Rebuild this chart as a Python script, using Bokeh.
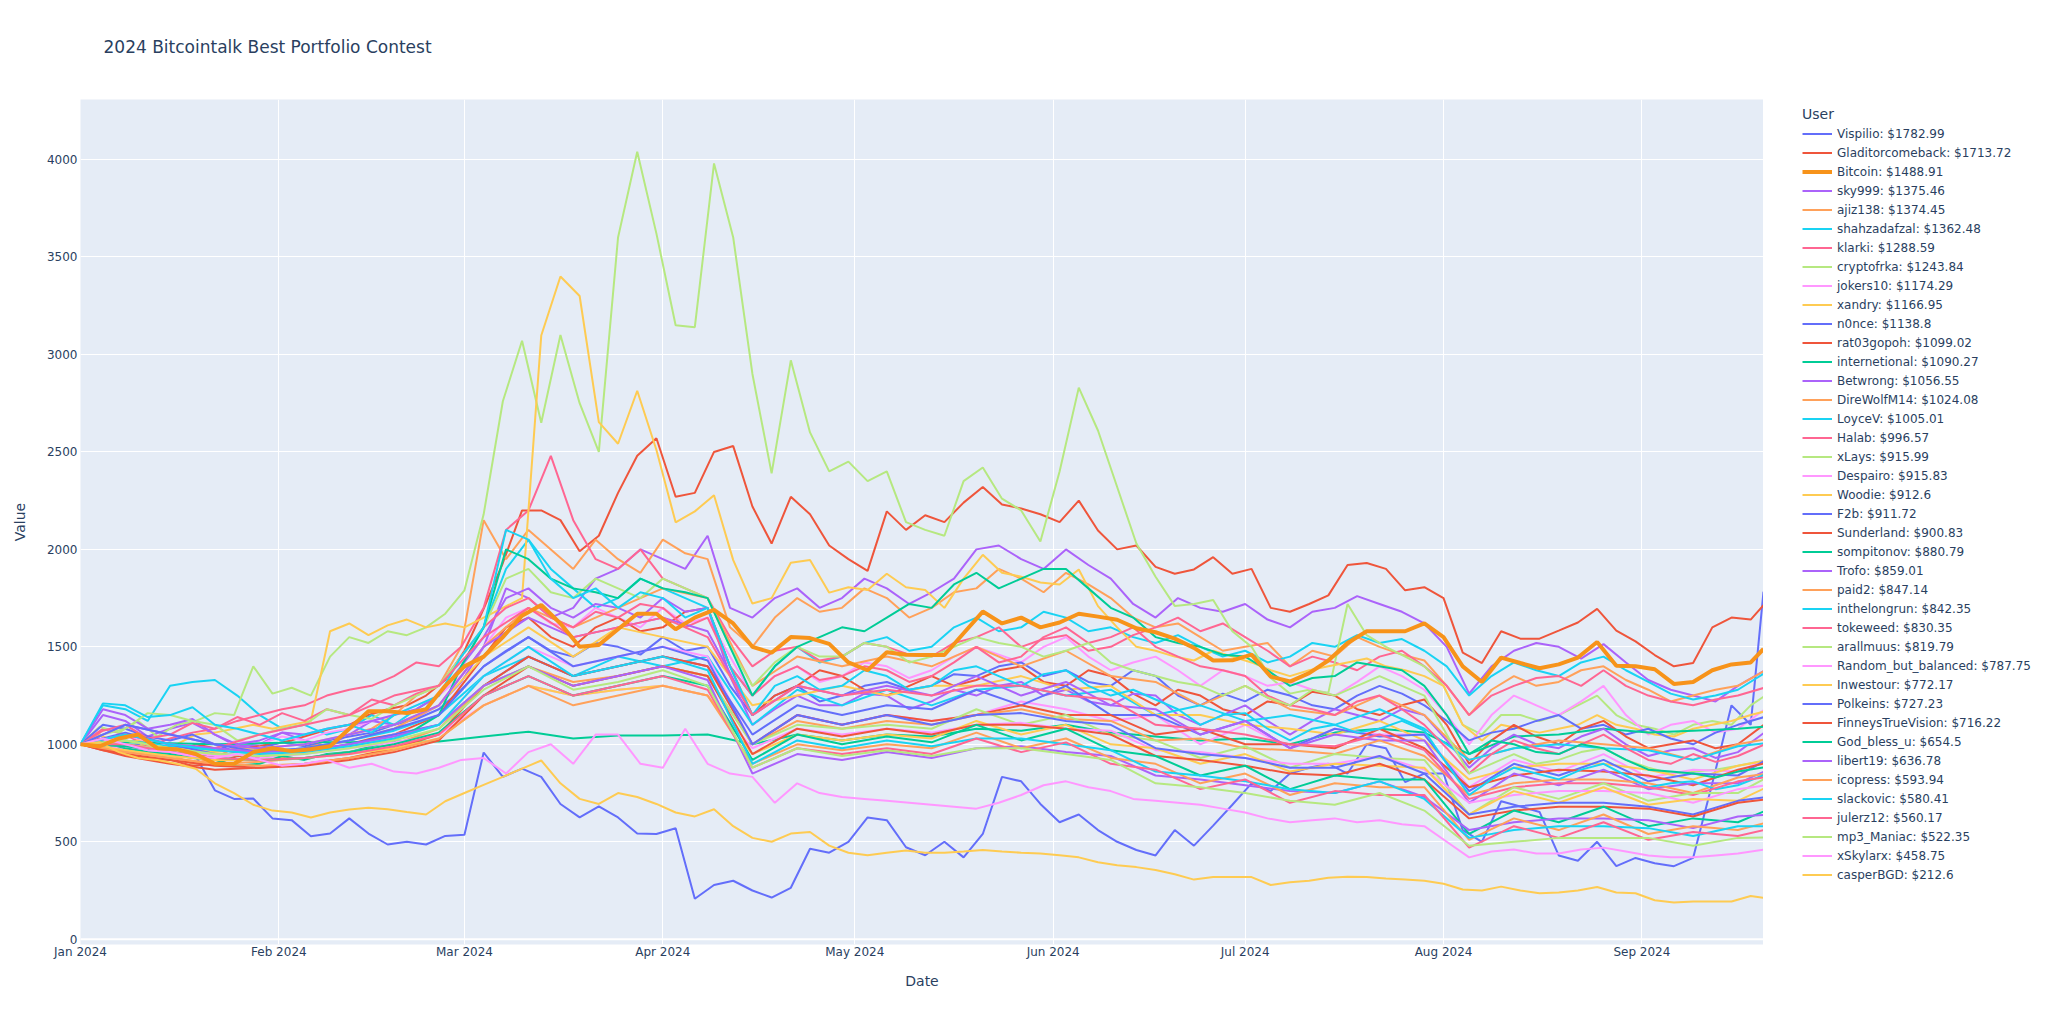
import datetime as dt
from bokeh.plotting import figure
from bokeh.layouts import row
from bokeh.models import (Range1d, FixedTicker, MonthsTicker, DatetimeTickFormatter,
                          Legend, LegendItem, Span, Title, ColumnDataSource)
from bokeh.core.properties import value
from bokeh.embed import file_html
from bokeh.resources import INLINE

START = dt.datetime(2024, 1, 1)
# sample dates, as day offsets from 2024-01-01
fine_days = list(range(0, 262, 3)) + [263]          # every 3 days
half_days = [k * 3.5 for k in range(75)] + [263]     # twice a week
week_days = list(range(0, 260, 7)) + [263]           # weekly

y_ticks = [0, 500, 1000, 1500, 2000, 2500, 3000, 3500, 4000]

# ---------- series on the 3-day grid ----------
v_vispilio = [1000, 1050, 980, 1000, 950, 980, 940, 764, 720, 722,
              620, 611, 528, 542, 620, 542, 486, 500, 486, 530,
              536, 958, 833, 875, 833, 694, 625, 681, 625, 542,
              540, 569, 208, 278, 300, 250, 214, 264, 464, 444,
              500, 625, 611, 472, 431, 500, 420, 540, 833, 810,
              694, 600, 640, 560, 500, 458, 430, 560, 480, 583,
              690, 800, 760, 850, 880, 900, 850, 1000, 980, 806,
              850, 850, 560, 500, 708, 681, 653, 430, 403, 500,
              375, 417, 390, 375, 417, 800, 1200, 1100, 1783]
v_gladitor = [1000, 1030, 960, 980, 950, 960, 1000, 980, 960, 990,
              1000, 1020, 1050, 1080, 1100, 1150, 1180, 1200, 1250, 1330,
              1480, 1695, 1930, 2200, 2200, 2150, 1990, 2070, 2290, 2480,
              2570, 2270, 2290, 2500, 2530, 2220, 2030, 2270, 2180, 2020,
              1950, 1890, 2195, 2100, 2175, 2140, 2240, 2320, 2230, 2210,
              2180, 2140, 2250, 2097, 2000, 2020, 1910, 1875, 1897, 1960,
              1875, 1900, 1700, 1680, 1720, 1764, 1920, 1930, 1900, 1790,
              1806, 1750, 1470, 1417, 1580, 1542, 1542, 1583, 1625, 1695,
              1583, 1528, 1458, 1400, 1417, 1600, 1650, 1640, 1714]
v_bitcoin = [1000, 990, 1030, 1050, 980, 975, 950, 900, 900, 960,
             980, 965, 975, 990, 1080, 1170, 1170, 1160, 1180, 1300,
             1400, 1450, 1550, 1660, 1715, 1620, 1500, 1510, 1590, 1670,
             1670, 1590, 1650, 1690, 1620, 1500, 1470, 1550, 1545, 1515,
             1420, 1380, 1472, 1460, 1458, 1458, 1570, 1681, 1620, 1650,
             1600, 1625, 1670, 1655, 1639, 1595, 1575, 1542, 1495, 1430,
             1431, 1460, 1347, 1322, 1365, 1430, 1520, 1580, 1580, 1580,
             1620, 1550, 1400, 1320, 1445, 1417, 1390, 1410, 1445, 1525,
             1403, 1400, 1385, 1310, 1320, 1380, 1410, 1420, 1489]
v_cryptofrka = [1000, 1090, 1060, 1120, 1040, 1100, 1120, 1160, 1150, 1400,
                1260, 1290, 1250, 1450, 1550, 1520, 1580, 1560, 1600, 1670,
                1790, 2180, 2760, 3070, 2650, 3100, 2750, 2500, 3600, 4040,
                3620, 3150, 3140, 3980, 3600, 2900, 2390, 2970, 2600, 2400,
                2450, 2350, 2400, 2140, 2100, 2070, 2350, 2420, 2260, 2200,
                2040, 2400, 2830, 2610, 2320, 2030, 1860, 1710, 1720, 1740,
                1580, 1500, 1340, 1260, 1280, 1264, 1720, 1560, 1500, 1450,
                1400, 1300, 1100, 1050, 1150, 1150, 1120, 1150, 1200, 1250,
                1150, 1100, 1080, 1050, 1100, 1120, 1100, 1200, 1244]
v_xandry = [1000, 1050, 1000, 1020, 980, 1000, 1050, 1060, 1080, 1100,
            1080, 1100, 1120, 1580, 1620, 1560, 1610, 1640, 1600, 1620,
            1600, 1650, 1700, 1750, 3097, 3400, 3300, 2653, 2542, 2814,
            2510, 2139, 2195, 2278, 1945, 1722, 1750, 1931, 1945, 1778,
            1806, 1792, 1875, 1806, 1792, 1700, 1850, 1972, 1880, 1860,
            1830, 1820, 1897, 1709, 1600, 1500, 1480, 1450, 1430, 1480,
            1450, 1420, 1380, 1350, 1380, 1400, 1420, 1440, 1400, 1380,
            1350, 1300, 1100, 1020, 1100, 1080, 1060, 1080, 1100, 1150,
            1100, 1080, 1050, 1040, 1080, 1100, 1120, 1150, 1167]
v_casperbgd = [1000, 1010, 960, 930, 920, 900, 875, 800, 750, 690,
               660, 650, 625, 650, 665, 675, 667, 653, 640, 708,
               750, 792, 833, 875, 917, 800, 720, 694, 750, 730,
               694, 650, 630, 667, 580, 520, 500, 542, 550, 480,
               444, 431, 444, 455, 444, 444, 450, 458, 450, 444,
               440, 431, 420, 395, 380, 370, 355, 333, 306, 319,
               319, 319, 278, 292, 300, 315, 320, 319, 311, 306,
               300, 285, 255, 250, 270, 250, 236, 240, 250, 268,
               240, 236, 200, 189, 194, 194, 194, 222, 213]

# ---------- series on the twice-weekly grid ----------
v_sky999 = [1000, 1150, 1120, 1040, 1080, 1110, 1050, 990, 1000, 1060,
            1020, 990, 1050, 1120, 1100, 1140, 1200, 1320, 1500, 1800,
            1750, 1650, 1700, 1850, 1900, 2000, 1950, 1900, 2070, 1700,
            1650, 1750, 1800, 1700, 1750, 1850, 1800, 1720, 1780, 1850,
            2000, 2020, 1950, 1900, 2000, 1920, 1850, 1720, 1650, 1750,
            1700, 1680, 1720, 1640, 1600, 1680, 1700, 1760, 1720, 1680,
            1620, 1500, 1260, 1400, 1480, 1520, 1500, 1440, 1514, 1420,
            1330, 1280, 1250, 1220, 1300, 1375]
v_ajiz138 = [1000, 1030, 980, 1000, 950, 900, 930, 990, 960, 930,
             980, 1020, 1050, 1080, 1150, 1250, 1300, 1500, 2150, 1950,
             2100, 2000, 1900, 2050, 1950, 1880, 2050, 1980, 1950, 1600,
             1500, 1650, 1750, 1680, 1700, 1800, 1750, 1650, 1700, 1780,
             1800, 1900, 1850, 1780, 1880, 1820, 1750, 1650, 1600, 1620,
             1550, 1480, 1500, 1520, 1400, 1480, 1450, 1550, 1500, 1460,
             1430, 1300, 1150, 1280, 1350, 1300, 1320, 1380, 1400, 1330,
             1280, 1220, 1250, 1280, 1300, 1374]
v_shahzadafzal = [1000, 1200, 1180, 1120, 1300, 1320, 1330, 1250, 1150, 1080,
                  1100, 1050, 1080, 1150, 1100, 1180, 1250, 1400, 1600, 1900,
                  2050, 1900, 1800, 1700, 1750, 1850, 1800, 1750, 1700, 1400,
                  1250, 1400, 1500, 1420, 1450, 1520, 1550, 1480, 1500, 1600,
                  1650, 1580, 1600, 1680, 1650, 1580, 1600, 1550, 1520, 1560,
                  1500, 1450, 1480, 1420, 1450, 1520, 1500, 1560, 1520, 1540,
                  1480, 1400, 1250, 1350, 1420, 1380, 1350, 1420, 1450, 1380,
                  1320, 1260, 1230, 1250, 1280, 1362]
v_klarki = [1000, 1080, 1050, 990, 1030, 1060, 1080, 1120, 1150, 1180,
            1200, 1250, 1280, 1300, 1350, 1420, 1400, 1500, 1700, 2100,
            2200, 2480, 2150, 1950, 1900, 2000, 1850, 1800, 1750, 1550,
            1400, 1480, 1500, 1430, 1450, 1520, 1500, 1460, 1450, 1520,
            1550, 1600, 1500, 1540, 1560, 1480, 1500, 1560, 1600, 1650,
            1580, 1620, 1550, 1480, 1400, 1450, 1420, 1380, 1450, 1480,
            1400, 1300, 1150, 1250, 1300, 1340, 1350, 1300, 1380, 1300,
            1250, 1220, 1200, 1230, 1250, 1289]
v_jokers10 = [1000, 1020, 1050, 1010, 1000, 960, 980, 1020, 1000, 1040,
              1020, 1060, 1080, 1120, 1150, 1200, 1250, 1350, 1500, 1650,
              1700, 1620, 1600, 1700, 1650, 1600, 1700, 1620, 1650, 1450,
              1250, 1350, 1400, 1320, 1350, 1420, 1400, 1340, 1380, 1450,
              1500, 1460, 1420, 1500, 1550, 1450, 1380, 1420, 1450, 1380,
              1300, 1380, 1350, 1300, 1320, 1280, 1250, 1320, 1400, 1350,
              1280, 1150, 1000, 1150, 1250, 1200, 1150, 1220, 1300, 1150,
              1050, 1100, 1120, 1060, 1080, 1174]
v_n0nce = [1000, 1100, 1080, 1040, 1020, 1050, 1000, 960, 980, 1010,
           990, 1020, 1040, 1060, 1100, 1130, 1180, 1280, 1400, 1480,
           1550, 1480, 1450, 1520, 1500, 1460, 1550, 1480, 1500, 1300,
           1150, 1250, 1300, 1220, 1250, 1300, 1320, 1280, 1300, 1360,
           1350, 1400, 1420, 1350, 1380, 1320, 1300, 1380, 1350, 1250,
           1200, 1260, 1220, 1280, 1250, 1200, 1180, 1250, 1300, 1260,
           1200, 1120, 1020, 1060, 1080, 1120, 1150, 1080, 1100, 1050,
           1080, 1030, 1000, 1060, 1100, 1139]
v_rat03gopoh = [1000, 970, 950, 930, 920, 890, 900, 940, 930, 960,
                950, 980, 1000, 1030, 1050, 1100, 1150, 1300, 1450, 1600,
                1650, 1550, 1500, 1600, 1650, 1580, 1600, 1680, 1700, 1400,
                1150, 1250, 1300, 1380, 1350, 1280, 1250, 1300, 1350, 1300,
                1330, 1380, 1400, 1320, 1300, 1380, 1350, 1260, 1200, 1280,
                1250, 1180, 1150, 1220, 1200, 1270, 1250, 1180, 1150, 1200,
                1230, 1100, 900, 1020, 1100, 1040, 1000, 1080, 1120, 1040,
                980, 1000, 1020, 980, 1000, 1099]
v_betwrong = [1000, 1180, 1150, 1080, 1100, 1130, 1050, 1000, 1020, 1060,
              1050, 1080, 1100, 1120, 1150, 1180, 1250, 1400, 1550, 1750,
              1800, 1700, 1650, 1720, 1700, 1650, 1750, 1680, 1700, 1350,
              1100, 1180, 1250, 1200, 1200, 1260, 1250, 1180, 1220, 1280,
              1250, 1300, 1320, 1250, 1280, 1220, 1200, 1260, 1250, 1150,
              1100, 1150, 1200, 1120, 1050, 1120, 1180, 1150, 1120, 1180,
              1150, 1020, 880, 980, 1050, 1000, 980, 1040, 1080, 1000,
              940, 970, 980, 930, 960, 1057]
v_halab = [1000, 1070, 1100, 1030, 1050, 1110, 1080, 1140, 1100, 1160,
           1120, 1180, 1150, 1230, 1200, 1260, 1300, 1450, 1600, 1700,
           1750, 1650, 1600, 1680, 1650, 1720, 1700, 1600, 1650, 1400,
           1250, 1350, 1400, 1330, 1350, 1400, 1380, 1320, 1350, 1420,
           1500, 1420, 1450, 1550, 1600, 1520, 1550, 1600, 1500, 1450,
           1400, 1380, 1350, 1250, 1200, 1180, 1150, 1220, 1250, 1180,
           1100, 980, 850, 950, 1020, 980, 950, 1000, 1050, 980,
           920, 900, 950, 910, 940, 997]
v_xlays = [1000, 1050, 1080, 1160, 1150, 1120, 1100, 1020, 1050, 1080,
           1100, 1180, 1150, 1130, 1200, 1250, 1300, 1450, 1600, 1850,
           1900, 1780, 1750, 1850, 1800, 1750, 1850, 1800, 1750, 1500,
           1300, 1420, 1500, 1450, 1450, 1520, 1500, 1420, 1450, 1500,
           1550, 1520, 1500, 1450, 1480, 1520, 1420, 1380, 1350, 1320,
           1300, 1250, 1300, 1240, 1200, 1280, 1250, 1300, 1350, 1300,
           1250, 1050, 850, 900, 950, 900, 920, 960, 980, 920,
           880, 850, 860, 870, 890, 916]
v_sompitonov = [1000, 1010, 980, 960, 950, 930, 920, 890, 900, 940,
                920, 950, 960, 990, 1020, 1080, 1150, 1400, 1600, 2000,
                1950, 1850, 1800, 1780, 1750, 1850, 1800, 1780, 1750, 1500,
                1250, 1400, 1500, 1550, 1600, 1580, 1650, 1720, 1700, 1820,
                1880, 1800, 1850, 1900, 1900, 1800, 1700, 1650, 1550, 1520,
                1500, 1460, 1450, 1380, 1300, 1340, 1350, 1420, 1400, 1380,
                1300, 1150, 950, 1020, 1000, 960, 950, 1000, 980, 920,
                870, 860, 850, 830, 860, 881]
v_xskylarx = [1000, 1030, 1000, 970, 960, 940, 930, 950, 920, 890,
              900, 920, 880, 900, 860, 850, 880, 920, 930, 850,
              960, 1000, 900, 1050, 1050, 900, 880, 1080, 900, 850,
              833, 700, 800, 750, 730, 720, 710, 700, 690, 680,
              670, 700, 740, 790, 810, 780, 760, 720, 710, 700,
              690, 670, 650, 620, 600, 610, 620, 600, 610, 590,
              580, 500, 420, 450, 460, 440, 440, 460, 470, 450,
              430, 420, 420, 430, 440, 459]
v_inthelongrun = [1000, 1210, 1200, 1140, 1150, 1190, 1100, 1080, 1050, 1020,
                  1050, 1080, 1100, 1060, 1150, 1200, 1250, 1450, 1600, 2100,
                  2050, 1850, 1750, 1800, 1700, 1780, 1750, 1650, 1700, 1400,
                  1150, 1300, 1350, 1280, 1300, 1380, 1350, 1280, 1300, 1380,
                  1400, 1350, 1300, 1360, 1380, 1300, 1250, 1280, 1230, 1180,
                  1100, 1150, 1160, 1080, 1020, 1080, 1100, 1060, 1080, 1120,
                  1070, 900, 740, 820, 880, 850, 820, 870, 900, 840,
                  780, 800, 810, 770, 790, 842]

# ---------- series on the weekly grid ----------
v_internetional = [1000, 1010, 1005, 1000, 1005, 1010, 1010, 1015, 1014, 1040,
                   1065, 1030, 1045, 1045, 1050, 1000, 1050, 1020, 1050, 1040,
                   1080, 1070, 1100, 1060, 1040, 1020, 1030, 1000, 1060, 1080,
                   1060, 950, 1040, 1050, 1080, 1060, 1070, 1080, 1090]
v_direwolf = [1000, 1000, 960, 940, 950, 970, 1020, 1080, 1200, 1500,
              1700, 1600, 1700, 1800, 1750, 1300, 1450, 1400, 1450, 1400,
              1500, 1400, 1480, 1350, 1320, 1200, 1300, 1180, 1150, 1250,
              1150, 920, 980, 1020, 1000, 980, 920, 1000, 1024]
v_loycev = [1000, 1020, 990, 970, 960, 980, 1020, 1070, 1150, 1350,
            1450, 1350, 1450, 1400, 1450, 1100, 1280, 1200, 1280, 1200,
            1280, 1300, 1250, 1280, 1150, 1200, 1120, 1150, 1100, 1180,
            1080, 920, 980, 1000, 980, 970, 920, 990, 1005]
v_despairo = [1000, 980, 950, 920, 930, 950, 980, 1050, 1100, 1350,
              1500, 1400, 1450, 1500, 1450, 1000, 1150, 1100, 1150, 1120,
              1150, 1220, 1180, 1120, 1150, 1000, 1100, 980, 1080, 1050,
              1050, 780, 920, 860, 950, 830, 870, 860, 916]
v_woodie = [1000, 1020, 980, 960, 980, 1000, 1050, 1100, 1200, 1450,
            1600, 1450, 1600, 1550, 1500, 1200, 1250, 1300, 1250, 1300,
            1300, 1350, 1280, 1300, 1150, 1150, 1100, 1080, 1050, 1120,
            1020, 820, 880, 900, 900, 870, 820, 890, 913]
v_f2b = [1000, 1060, 1000, 950, 940, 960, 1000, 1050, 1100, 1300,
         1450, 1350, 1400, 1450, 1400, 1050, 1200, 1150, 1200, 1180,
         1280, 1200, 1300, 1150, 1150, 1050, 1120, 980, 1080, 1040,
         1050, 760, 900, 840, 920, 810, 850, 840, 912]
v_sunderland = [1000, 940, 900, 870, 880, 900, 930, 980, 1050, 1300,
                1450, 1350, 1400, 1450, 1400, 1000, 1150, 1100, 1150, 1120,
                1150, 1200, 1150, 1150, 1050, 1080, 1000, 1000, 980, 1080,
                980, 780, 840, 870, 860, 840, 790, 870, 901]
v_trofo = [1000, 1100, 1050, 1000, 980, 1000, 1050, 1100, 1200, 1500,
           1650, 1550, 1600, 1650, 1580, 1150, 1300, 1250, 1300, 1250,
           1350, 1250, 1320, 1200, 1180, 1050, 1120, 980, 1050, 1020,
           1020, 700, 850, 790, 870, 770, 800, 800, 859]
v_paid2 = [1000, 960, 930, 900, 910, 930, 960, 1000, 1080, 1300,
           1400, 1320, 1350, 1400, 1350, 1000, 1120, 1080, 1120, 1100,
           1150, 1180, 1130, 1120, 1020, 1030, 980, 970, 950, 1020,
           940, 740, 800, 820, 820, 800, 750, 830, 847]
v_tokeweed = [1000, 1050, 1000, 980, 1050, 1100, 1150, 1250, 1300, 1550,
              1700, 1550, 1600, 1650, 1550, 1150, 1300, 1250, 1280, 1250,
              1300, 1300, 1250, 1230, 1100, 1080, 1050, 1000, 990, 1050,
              970, 720, 780, 800, 800, 780, 740, 810, 830]
v_arallmuus = [1000, 1000, 970, 950, 940, 960, 990, 1030, 1100, 1300,
               1400, 1300, 1350, 1400, 1350, 1000, 1100, 1080, 1100, 1080,
               1180, 1100, 1150, 1050, 1020, 930, 990, 880, 950, 930,
               920, 640, 780, 720, 800, 710, 750, 750, 820]
v_random = [1000, 990, 960, 940, 950, 960, 980, 1010, 1050, 1200,
            1300, 1250, 1280, 1300, 1250, 980, 1080, 1050, 1080, 1060,
            1100, 1110, 1080, 1070, 970, 960, 930, 900, 900, 940,
            870, 700, 740, 760, 760, 750, 700, 770, 788]
v_inwestour = [1000, 970, 940, 920, 920, 930, 950, 980, 1030, 1200,
               1300, 1250, 1280, 1300, 1250, 950, 1050, 1020, 1050, 1030,
               1120, 1050, 1100, 1000, 980, 900, 950, 860, 900, 890,
               880, 640, 760, 700, 780, 690, 720, 710, 772]
v_polkeins = [1000, 1100, 1050, 1000, 960, 980, 1020, 1080, 1150, 1400,
              1550, 1400, 1450, 1500, 1430, 1000, 1150, 1100, 1150, 1100,
              1150, 1160, 1120, 1100, 980, 950, 930, 880, 880, 940,
              850, 640, 680, 700, 700, 680, 640, 710, 727]
v_finneys = [1000, 950, 920, 890, 880, 890, 920, 960, 1020, 1250,
             1400, 1300, 1350, 1400, 1350, 950, 1080, 1040, 1080, 1050,
             1100, 1100, 1080, 1050, 940, 920, 890, 850, 840, 900,
             820, 620, 660, 680, 680, 670, 630, 700, 716]
v_godbless = [1000, 990, 960, 930, 920, 930, 960, 1000, 1060, 1250,
              1350, 1250, 1300, 1350, 1300, 920, 1050, 1000, 1040, 1010,
              1100, 1020, 1080, 970, 940, 840, 890, 770, 840, 820,
              820, 540, 660, 600, 680, 580, 620, 600, 655]
v_libert19 = [1000, 1050, 1000, 980, 960, 970, 1000, 1040, 1100, 1300,
              1400, 1300, 1350, 1400, 1330, 850, 950, 920, 960, 930,
              980, 990, 960, 940, 840, 820, 790, 760, 750, 810,
              730, 560, 600, 620, 620, 610, 570, 630, 637]
v_icopress = [1000, 960, 930, 900, 890, 900, 930, 970, 1030, 1200,
              1300, 1200, 1250, 1300, 1250, 900, 1000, 970, 1000, 980,
              1060, 980, 1030, 930, 900, 800, 850, 740, 800, 780,
              780, 510, 620, 560, 640, 540, 580, 560, 594]
v_slackovic = [1000, 1050, 1000, 970, 950, 960, 990, 1030, 1100, 1350,
               1500, 1350, 1400, 1450, 1380, 900, 1020, 980, 1020, 990,
               1030, 1030, 1000, 970, 860, 840, 810, 770, 750, 810,
               720, 520, 560, 580, 580, 570, 530, 580, 580]
v_julerz12 = [1000, 1000, 960, 930, 920, 930, 950, 990, 1050, 1250,
              1350, 1250, 1300, 1350, 1280, 880, 980, 950, 980, 950,
              1030, 960, 1010, 900, 870, 770, 820, 700, 760, 740,
              740, 470, 580, 520, 600, 510, 550, 530, 560]
v_mp3maniac = [1000, 1020, 980, 950, 940, 950, 980, 1020, 1080, 1280,
               1400, 1280, 1320, 1380, 1300, 880, 980, 940, 970, 940,
               980, 980, 950, 920, 800, 780, 750, 710, 690, 750,
               660, 480, 500, 520, 520, 520, 480, 520, 522]

users = ["Vispilio", "Gladitorcomeback", "Bitcoin", "sky999", "ajiz138", "shahzadafzal",
         "klarki", "cryptofrka", "jokers10", "xandry", "n0nce", "rat03gopoh",
         "internetional", "Betwrong", "DireWolfM14", "LoyceV", "Halab", "xLays",
         "Despairo", "Woodie", "F2b", "Sunderland", "sompitonov", "Trofo", "paid2",
         "inthelongrun", "tokeweed", "arallmuus", "Random_but_balanced", "Inwestour",
         "Polkeins", "FinneysTrueVision", "God_bless_u", "libert19", "icopress",
         "slackovic", "julerz12", "mp3_Maniac", "xSkylarx", "casperBGD"]
final_values = [1782.99, 1713.72, 1488.91, 1375.46, 1374.45, 1362.48, 1288.59, 1243.84,
                1174.29, 1166.95, 1138.8, 1099.02, 1090.27, 1056.55, 1024.08, 1005.01,
                996.57, 915.99, 915.83, 912.6, 911.72, 900.83, 880.79, 859.01, 847.14,
                842.35, 830.35, 819.79, 787.75, 772.17, 727.23, 716.22, 654.5, 636.78,
                593.94, 580.41, 560.17, 522.35, 458.75, 212.6]
values = [v_vispilio, v_gladitor, v_bitcoin, v_sky999, v_ajiz138, v_shahzadafzal,
          v_klarki, v_cryptofrka, v_jokers10, v_xandry, v_n0nce, v_rat03gopoh,
          v_internetional, v_betwrong, v_direwolf, v_loycev, v_halab, v_xlays,
          v_despairo, v_woodie, v_f2b, v_sunderland, v_sompitonov, v_trofo, v_paid2,
          v_inthelongrun, v_tokeweed, v_arallmuus, v_random, v_inwestour,
          v_polkeins, v_finneys, v_godbless, v_libert19, v_icopress,
          v_slackovic, v_julerz12, v_mp3maniac, v_xskylarx, v_casperbgd]
grids = {len(fine_days): fine_days, len(half_days): half_days, len(week_days): week_days}

palette = ["#636EFA", "#EF553B", "#00CC96", "#AB63FA", "#FFA15A",
           "#19D3F3", "#FF6692", "#B6E880", "#FF97FF", "#FECB52"]
BTC_COLOR = "#F7931A"
TXT = "#2a3f5f"
FONT = "DejaVu Sans"


def style_of(i):
    if users[i] == "Bitcoin":
        return BTC_COLOR, 4
    return palette[i % 10], 2


H = 1010
FRAME_L, FRAME_T, FRAME_W, FRAME_H = 80, 99, 1683, 845

# ---------------- main chart ----------------
p = figure(width=FRAME_L + FRAME_W, height=H, x_axis_type="datetime",
           x_range=Range1d(START, START + dt.timedelta(days=263)),
           y_range=Range1d(-27, 4308),
           output_backend="svg", toolbar_location=None,
           min_border_left=FRAME_L, min_border_right=0,
           min_border_top=FRAME_T, min_border_bottom=H - FRAME_T - FRAME_H,
           background_fill_color="#E5ECF6", border_fill_color="white",
           outline_line_color=None)

# blank spacer title (closest to the frame), then the real title above it
p.add_layout(Title(text=" ", text_font_size="10px", standoff=30), "above")
p.title.text = "2024 Bitcointalk Best Portfolio Contest"
p.title.text_font = FONT
p.title.text_font_size = "17px"
p.title.text_font_style = "normal"
p.title.text_color = TXT
p.title.align = "left"
p.title.offset = 23
p.title.standoff = 0

p.xgrid.grid_line_color = "white"
p.ygrid.grid_line_color = "white"
p.xgrid.grid_line_width = 1
p.ygrid.grid_line_width = 1
p.add_layout(Span(location=0, dimension="width", line_color="white", line_width=2))

p.xaxis.ticker = MonthsTicker(months=list(range(12)))
p.xaxis.formatter = DatetimeTickFormatter(months="%b %Y", days="%b %Y", years="%b %Y")
p.yaxis.ticker = FixedTicker(ticks=y_ticks)
for ax in (p.xaxis[0], p.yaxis[0]):
    ax.axis_line_color = None
    ax.major_tick_line_color = None
    ax.minor_tick_line_color = None
    ax.major_tick_out = 0
    ax.major_tick_in = 0
    ax.major_label_text_font = FONT
    ax.major_label_text_font_size = "12px"
    ax.major_label_text_color = TXT
    ax.axis_label_text_font = FONT
    ax.axis_label_text_font_size = "14px"
    ax.axis_label_text_font_style = "normal"
    ax.axis_label_text_color = TXT
p.xaxis.axis_label = "Date"
p.yaxis.axis_label = "Value"
p.xaxis.major_label_standoff = 0
p.xaxis.axis_label_standoff = 11
p.yaxis.major_label_standoff = 3
p.yaxis.axis_label_standoff = 16

order = [i for i in range(len(users)) if users[i] != "Bitcoin"] + [users.index("Bitcoin")]
for i in order:
    vals = values[i]
    days = grids[len(vals)]
    src = ColumnDataSource(dict(x=[START + dt.timedelta(days=d) for d in days], y=vals))
    color, width = style_of(i)
    p.line("x", "y", source=src, line_color=color, line_width=width)

# ---------------- legend panel (right) ----------------
pl = figure(width=2040 - (FRAME_L + FRAME_W), height=H,
            x_range=Range1d(0, 1), y_range=Range1d(0, 1),
            output_backend="svg", toolbar_location=None,
            x_axis_location=None, y_axis_location=None,
            min_border_left=32, min_border_top=FRAME_T, min_border_right=0,
            min_border_bottom=H - FRAME_T - FRAME_H,
            background_fill_color="white", border_fill_color="white",
            outline_line_color=None)
pl.grid.visible = False

items = []
for i, name in enumerate(users):
    color, width = style_of(i)
    # swatch renderer: its points sit outside the visible range, only the legend shows it
    r = pl.line(x=[5, 6], y=[5, 6], line_color=color, line_width=width)
    items.append(LegendItem(label=value(f"{name}: ${final_values[i]}"), renderers=[r]))

legend = Legend(items=items, location="top_left", title="User", ncols=1,
                label_text_font=FONT, label_text_font_size="12px", label_text_color=TXT,
                title_text_font=FONT, title_text_font_size="14px", title_text_font_style="normal",
                title_text_color=TXT, title_standoff=2,
                glyph_width=30, glyph_height=19, label_height=19, label_standoff=5,
                spacing=0, padding=0, margin=7,
                border_line_alpha=0, background_fill_alpha=0)
pl.add_layout(legend, "center")

layout = row(p, pl, spacing=0)
open("out.html", "w").write(file_html(layout, INLINE))
